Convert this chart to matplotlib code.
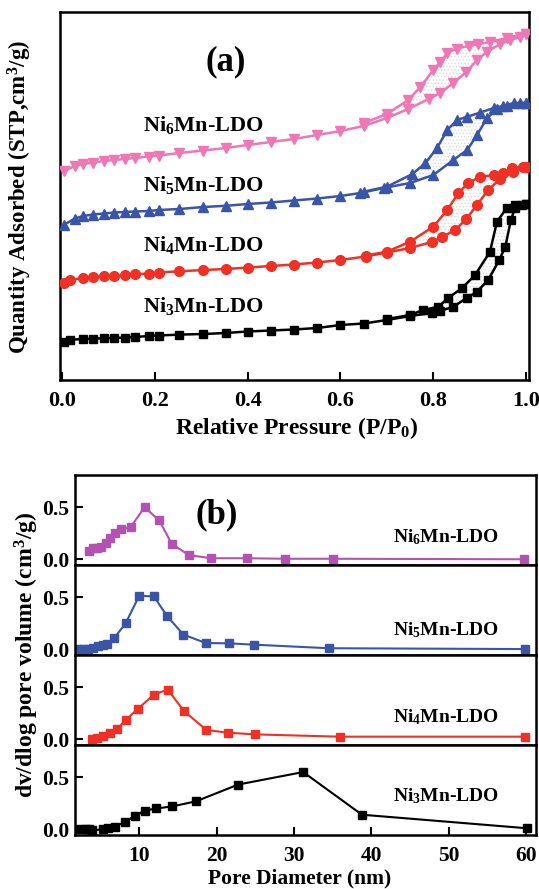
import numpy as np
import matplotlib
matplotlib.use("Agg")
import matplotlib.pyplot as plt

plt.rcParams['font.family'] = ['Liberation Serif', 'DejaVu Serif']
plt.rcParams['font.weight'] = 'bold'
plt.rcParams['mathtext.fontset'] = 'custom'
plt.rcParams['mathtext.rm'] = 'Liberation Serif:bold'
plt.rcParams['mathtext.bf'] = 'Liberation Serif:bold'
plt.rcParams['mathtext.it'] = 'Liberation Serif:italic:bold'
plt.rcParams['mathtext.default'] = 'bf'
plt.rcParams['hatch.linewidth'] = 0.6

# ---------------- (a) N2 isotherms (arbitrary offset units) ----------------
p6_ads = [0.005, 0.028, 0.046, 0.068, 0.09, 0.113, 0.135, 0.157, 0.187, 0.209, 0.253, 0.305, 0.353, 0.40,
          0.45, 0.50, 0.55, 0.60, 0.65, 0.70, 0.746, 0.79, 0.815, 0.843, 0.871, 0.894, 0.915, 0.944, 0.966, 0.987, 1.0]
q6_ads = [209, 214, 216, 217.5, 219, 220, 221, 222, 223.5, 224.5, 227, 229.5, 232, 235,
          238, 241, 245, 249, 254, 262, 271, 281, 287, 297, 308, 320, 328, 336, 340, 343, 346]
p6_des = [1.0, 0.958, 0.923, 0.897, 0.876, 0.851, 0.83, 0.815, 0.80, 0.772, 0.746, 0.70, 0.65]
q6_des = [346, 342, 338, 336, 334, 331.5, 327, 318, 310, 293, 280, 266, 257]

p5_ads = [0.005, 0.028, 0.046, 0.068, 0.09, 0.113, 0.135, 0.157, 0.187, 0.209, 0.253, 0.305, 0.353, 0.40,
          0.45, 0.50, 0.55, 0.60, 0.643, 0.693, 0.75, 0.80, 0.843, 0.873, 0.894, 0.916, 0.938, 0.959, 0.987, 1.0]
q5_ads = [155.3, 161.5, 164, 165.5, 166.5, 167.5, 168, 168.5, 169, 170, 171, 173, 174.2, 176,
          177.5, 179.5, 181.5, 184, 187, 192, 197, 205, 220, 230, 245, 262, 271, 274, 277, 277]
p5_des = [1.0, 0.973, 0.95, 0.93, 0.90, 0.873, 0.851, 0.83, 0.808, 0.783, 0.755, 0.70, 0.65]
q5_des = [277, 277, 274, 272, 267.3, 263.3, 260, 250, 232, 217, 206, 193.3, 188.3]

p4_ads = [0.005, 0.017, 0.046, 0.068, 0.09, 0.113, 0.135, 0.157, 0.187, 0.209, 0.253, 0.305, 0.353, 0.40,
          0.45, 0.50, 0.55, 0.60, 0.654, 0.70, 0.75, 0.797, 0.819, 0.847, 0.871, 0.894, 0.918, 0.944, 0.972, 0.994, 1.0]
q4_ads = [97, 100, 102, 103, 103.7, 104.3, 105, 105.7, 106.5, 107.5, 108.7, 110, 111, 112.4,
          114, 115.5, 117.5, 120, 123.5, 127.5, 132, 138, 143, 150, 161, 175, 190, 201, 208, 213, 213.3]
p4_des = [1.0, 0.969, 0.95, 0.93, 0.90, 0.875, 0.854, 0.83, 0.80, 0.75, 0.70, 0.654]
q4_des = [213.3, 212, 207, 205, 203, 197, 187, 170, 153.3, 138.3, 128.3, 124.5]

p3_ads = [0.005, 0.017, 0.046, 0.068, 0.09, 0.113, 0.135, 0.157, 0.187, 0.209, 0.253, 0.305, 0.353, 0.40,
          0.45, 0.50, 0.55, 0.60, 0.65, 0.70, 0.75, 0.797, 0.815, 0.843, 0.872, 0.894, 0.918, 0.942, 0.955, 0.967, 0.976, 0.99, 1.0]
q3_ads = [38.5, 40.2, 41, 41.3, 41.7, 42, 42.5, 43, 44, 44.5, 45.4, 46, 47, 48.5,
          49.5, 50.5, 52, 55, 56.5, 60, 64, 67, 69, 73.3, 82, 88.3, 100, 120, 133.3, 160, 172, 175, 176]
p3_des = [1.0, 0.975, 0.958, 0.937, 0.922, 0.89, 0.862, 0.832, 0.811, 0.778, 0.75, 0.70]
q3_des = [176, 175.5, 172, 158.3, 128.3, 105, 92, 82, 73.3, 70, 65, 61]

# ---------------- (b) pore size distributions ----------------
d6 = [3.45, 3.97, 4.54, 5.06, 5.7, 6.26, 6.9, 7.64, 8.9, 10.7, 12.6, 14.2, 16.4, 19.25, 23.9, 28.8, 35.0, 59.7]
v6 = [0.079, 0.105, 0.11, 0.118, 0.159, 0.207, 0.254, 0.287, 0.31, 0.50, 0.373, 0.149, 0.041, 0.01, 0.01, 0.005, 0.005, 0.0]

d5 = [2.04, 2.7, 3.37, 4.0, 4.7, 5.35, 5.9, 6.8, 8.25, 10.0, 11.9, 13.6, 15.7, 18.6, 21.6, 24.9, 34.5, 59.9]
v5 = [0.0, 0.002, 0.006, 0.012, 0.028, 0.044, 0.054, 0.11, 0.25, 0.514, 0.508, 0.32, 0.142, 0.06, 0.057, 0.044, 0.01, 0.002]

d4 = [3.94, 4.48, 5.37, 6.17, 7.14, 8.25, 9.8, 11.9, 13.7, 15.8, 18.7, 21.5, 25.0, 35.9, 59.9]
v4 = [0.0, 0.016, 0.03, 0.056, 0.10, 0.184, 0.29, 0.43, 0.477, 0.27, 0.089, 0.063, 0.047, 0.025, 0.025]

d3 = [2.4, 3.06, 3.5, 3.94, 5.28, 6.0, 6.9, 8.1, 9.5, 10.7, 12.2, 14.3, 17.4, 22.8, 31.2, 38.8, 60.1]
v3 = [0.0, 0.005, 0.0, -0.01, 0.0, 0.009, 0.024, 0.07, 0.13, 0.18, 0.2, 0.22, 0.27, 0.43, 0.55, 0.14, 0.01]

names = ['Ni$_6$Mn-LDO', 'Ni$_5$Mn-LDO', 'Ni$_4$Mn-LDO', 'Ni$_3$Mn-LDO']
iso_colors = ['#EE77B4', '#3A55A8', '#EE3124', '#000000']
psd_colors = ['#B452B4', '#3A55A8', '#EE3124', '#000000']

W, H = 539, 889
fig = plt.figure(figsize=(W / 100, H / 100), dpi=100)

# ---- panel (a)
axa = fig.add_axes([60 / W, 1 - 380 / H, (529 - 60) / W, (380 - 12) / H])
iso = [(p6_ads, q6_ads, p6_des, q6_des, 'v', 7.5),
       (p5_ads, q5_ads, p5_des, q5_des, '^', 7.5),
       (p4_ads, q4_ads, p4_des, q4_des, 'o', 7),
       (p3_ads, q3_ads, p3_des, q3_des, 's', 6)]
for (pa, qa, pd, qd, mk, ms), col in zip(iso, iso_colors):
    pa, qa, pd, qd = map(np.asarray, (pa, qa, pd, qd))
    keep = pa >= pd.min()
    loop_x = np.concatenate([pa[keep], pd])
    loop_y = np.concatenate([qa[keep], qd])
    axa.fill(loop_x, loop_y, facecolor='none', edgecolor='#dadada', hatch='.....', linewidth=0, zorder=1)
    axa.plot(pa, qa, color=col, marker=mk, ms=ms, lw=1.8, zorder=3)
    axa.plot(pd, qd, color=col, marker=mk, ms=ms, lw=1.8, zorder=3)

axa.set_xlim(-0.004, 1.006)
axa.set_ylim(0, 368)
axa.set_yticks([])
axa.set_xticks([0.0, 0.2, 0.4, 0.6, 0.8, 1.0])
axa.set_xticklabels(['0.0', '0.2', '0.4', '0.6', '0.8', '1.0'])
axa.tick_params(axis='x', direction='in', length=6, width=1.5, labelsize=16, pad=8)
for s in axa.spines.values():
    s.set_linewidth(1.8)

for name, ypix in zip(names, [125, 185, 245, 306]):
    fig.text(143 / W, 1 - ypix / H, name, fontsize=16, fontweight='bold', ha='left', va='center')
fig.text(226 / W, 1 - 62 / H, '(a)', fontsize=25, fontweight='bold', ha='center', va='center')
fig.text(20 / W, 1 - 197 / H, 'Quantity Adsorbed (STP,cm$^3$/g)', fontsize=16.5, fontweight='bold',
         rotation=90, ha='center', va='center')
fig.text(297 / W, 1 - 428 / H, 'Relative Pressure (P/P$_0$)', fontsize=17, fontweight='bold',
         ha='center', va='center')

# ---- panel (b)
psd = [(d6, v6), (d5, v5), (d4, v4), (d3, v3)]
tops = [475, 565, 655, 745]
label_y = [537, 630, 717, 796]
for i, ((d, v), col) in enumerate(zip(psd, psd_colors)):
    ax = fig.add_axes([75 / W, 1 - (tops[i] + 90) / H, 461 / W, 90 / H])
    ax.plot(d, v, color=col, marker='s', ms=5.5, lw=1.5)
    ax.set_xlim(1.7, 61.3)
    ax.set_ylim(-0.055, 0.81)
    ax.set_yticks([0.0, 0.5])
    ax.set_yticklabels(['0.0', '0.5'])
    ax.set_xticks([10, 20, 30, 40, 50, 60])
    ax.tick_params(direction='in', length=6, width=1.5, labelsize=15.5, pad=4)
    if i < 3:
        ax.tick_params(axis='x', length=0, labelbottom=False)
    else:
        ax.tick_params(axis='x', pad=8)
    for s in ax.spines.values():
        s.set_linewidth(1.8)
    fig.text(393 / W, 1 - label_y[i] / H, names[i], fontsize=14, fontweight='bold', ha='left', va='center')

fig.text(217 / W, 1 - 515 / H, '(b)', fontsize=25, fontweight='bold', ha='center', va='center')
fig.text(27 / W, 1 - 655 / H, 'dv/dlog pore volume (cm$^3$/g)', fontsize=17, fontweight='bold',
         rotation=90, ha='center', va='center')
fig.text(300 / W, 1 - 878 / H, 'Pore Diameter (nm)', fontsize=15.5, fontweight='bold', ha='center', va='center')

fig.savefig('out.png', dpi=100)
